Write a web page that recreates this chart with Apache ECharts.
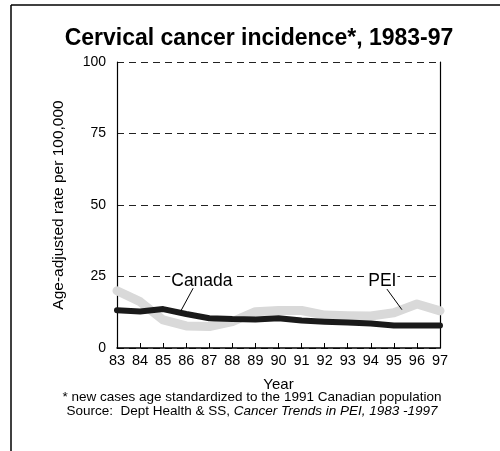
<!DOCTYPE html>
<html>
<head>
<meta charset="utf-8">
<script src="https://cdn.jsdelivr.net/npm/echarts@6/dist/echarts.min.js"></script>
<style>
  html, body { margin: 0; padding: 0; background: #fff; }
  #chart { width: 500px; height: 451px; }
</style>
</head>
<body>
<div id="chart"></div>
<script>
// Year tick labels (1983-1997)
const years = ['83','84','85','86','87','88','89','90','91','92','93','94','95','96','97'];
// Age-adjusted incidence per 100,000
const canada = [13.2, 12.8, 13.6, 11.9, 10.4, 10.1, 10.0, 10.4, 9.6, 9.2, 8.9, 8.6, 7.9, 7.9, 7.9];
const pei    = [20.0, 16.2, 9.8, 7.7, 7.5, 9.2, 12.7, 13.1, 13.1, 11.5, 11.3, 11.2, 12.3, 15.4, 13.0];
const yTicks = [0, 25, 50, 75, 100];

const font = '"Liberation Sans", Arial, sans-serif';
const chart = echarts.init(document.getElementById('chart'));

chart.setOption({
  animation: false,
  backgroundColor: '#fff',
  title: {
    text: 'Cervical cancer incidence*, 1983-97',
    left: 254, top: 22, textAlign: 'center',
    textStyle: { fontFamily: font, fontSize: 23, fontWeight: 'bold', color: '#000' }
  },
  grid: { left: 117, right: 60, top: 62, bottom: 103 },
  xAxis: {
    type: 'category', data: years, boundaryGap: false,
    name: 'Year', nameLocation: 'middle', nameGap: 29,
    nameTextStyle: { fontFamily: font, fontSize: 15, color: '#000' },
    axisLine: { lineStyle: { color: '#000', width: 1.5 } },
    axisTick: { inside: true, length: 5, alignWithLabel: true, lineStyle: { color: '#000' } },
    axisLabel: { fontFamily: font, fontSize: 14.5, color: '#000', margin: 5, interval: 0 },
    splitLine: { show: false }
  },
  yAxis: [{
    type: 'value', min: 0, max: 100, interval: 25,
    name: 'Age-adjusted rate per 100,000', nameLocation: 'middle', nameGap: 50,
    nameTextStyle: { fontFamily: font, fontSize: 15.5, color: '#000' },
    axisLine: { show: true, lineStyle: { color: '#000', width: 1.2 } },
    axisTick: { show: false },
    axisLabel: {
      fontFamily: font, fontSize: 14, color: '#000', margin: 11,
      formatter: v => yTicks.includes(v) ? String(v) : ''
    },
    splitLine: { show: true, lineStyle: { color: '#222', type: [7, 5], width: 1 } }
  }, {
    type: 'value', min: 0, max: 100, interval: 25, position: 'right',
    axisLine: { show: true, lineStyle: { color: '#000', width: 1.2 } },
    axisTick: { show: false }, axisLabel: { show: false }, splitLine: { show: false }
  }],
  series: [{
    name: 'PEI', type: 'line', data: pei, symbol: 'none', z: 2,
    lineStyle: { color: '#d9d9d9', width: 9, cap: 'round', join: 'round' }
  }, {
    name: 'Canada', type: 'line', data: canada, symbol: 'none', z: 3,
    lineStyle: { color: '#1a1a1a', width: 6, cap: 'round', join: 'round' }
  }]
});

// Pixel position of a fractional category index and a value
function px(x, y) {
  const i0 = Math.floor(x), i1 = Math.min(i0 + 1, years.length - 1);
  const p0 = chart.convertToPixel({ gridIndex: 0 }, [i0, y]);
  const p1 = chart.convertToPixel({ gridIndex: 0 }, [i1, y]);
  const t = x - i0;
  return [p0[0] + (p1[0] - p0[0]) * t, p0[1]];
}
const canLab = px(3.68, 23.3), canA = px(3.3, 20.9), canB = px(2.77, 13.0);
const peiLab = px(11.5, 23.3), peiA = px(11.7, 20.6), peiB = px(12.35, 13.4);

chart.setOption({
  graphic: [
    { type: 'line', shape: { x1: 11, y1: 5, x2: 500, y2: 5 }, style: { stroke: '#000', lineWidth: 1.5 } },
    { type: 'line', shape: { x1: 11, y1: 5, x2: 11, y2: 451 }, style: { stroke: '#000', lineWidth: 1.5 } },
    { type: 'text', x: canLab[0], y: canLab[1], z: 10,
      style: { text: 'Canada', font: '17.5px ' + font, fill: '#000', align: 'center', verticalAlign: 'middle',
               backgroundColor: '#fff', padding: [0, 1] } },
    { type: 'line', z: 10, shape: { x1: canA[0], y1: canA[1], x2: canB[0], y2: canB[1] }, style: { stroke: '#000', lineWidth: 1 } },
    { type: 'text', x: peiLab[0], y: peiLab[1], z: 10,
      style: { text: 'PEI', font: '17.5px ' + font, fill: '#000', align: 'center', verticalAlign: 'middle',
               backgroundColor: '#fff', padding: [0, 1] } },
    { type: 'line', z: 10, shape: { x1: peiA[0], y1: peiA[1], x2: peiB[0], y2: peiB[1] }, style: { stroke: '#000', lineWidth: 1 } },
    { type: 'text', x: 252, y: 397, z: 10,
      style: { text: '* new cases age standardized to the 1991 Canadian population',
               font: '13.5px ' + font, fill: '#000', align: 'center', verticalAlign: 'middle' } },
    { type: 'text', x: 252, y: 411, z: 10,
      style: { text: '{n|Source:  Dept Health & SS, }{i|Cancer Trends in PEI, 1983 -1997}',
               align: 'center', verticalAlign: 'middle',
               rich: { n: { font: '13.5px ' + font, fill: '#000' },
                       i: { font: 'italic 13.5px ' + font, fill: '#000' } } } }
  ]
});
</script>
</body>
</html>
